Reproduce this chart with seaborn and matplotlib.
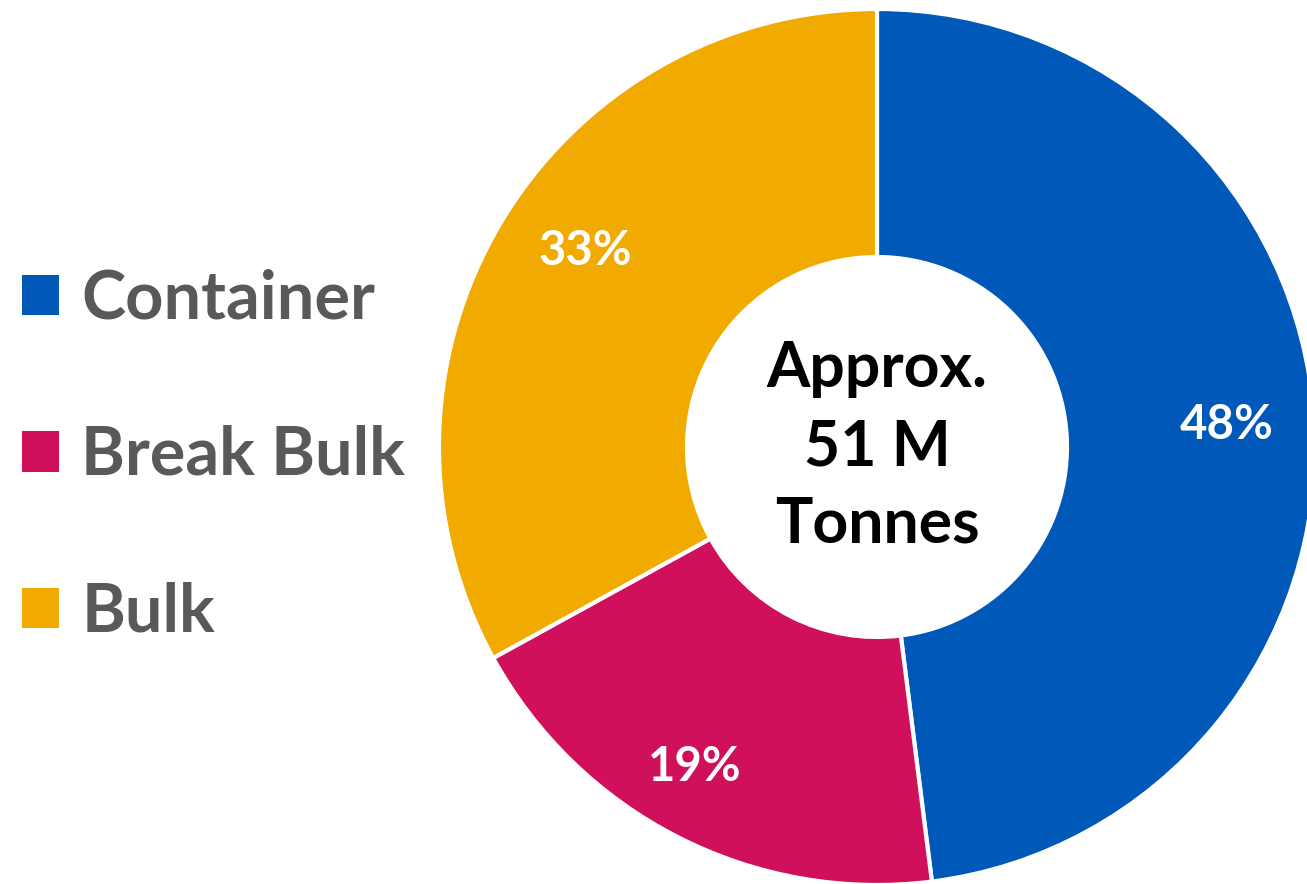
import numpy as np
import matplotlib
matplotlib.use("Agg")
import matplotlib.pyplot as plt
import seaborn as sns

# datos del gráfico
categories = ["Container", "Break Bulk", "Bulk"]
shares = [48, 19, 33]
colors = ["#0058B8", "#D0105A", "#F0AA00"]
center_label = "Approx.\n51 M\nTonnes"


def main():
    sns.set_theme(style="white")
    plt.rcParams["font.family"] = ["Lato", "DejaVu Sans"]

    W, H = 1307, 884
    fig = plt.figure(figsize=(W / 100, H / 100), dpi=100)
    ax = fig.add_axes([0, 0, 1, 1])

    palette = sns.color_palette(colors)
    cx, cy = 877, H - 447
    r_out, r_in = 438, 190

    wedges, _, autotexts = ax.pie(
        shares, colors=palette, startangle=90, counterclock=False,
        center=(cx, cy), radius=r_out, autopct="%1.0f%%", pctdistance=0.8,
        wedgeprops=dict(width=r_out - r_in, edgecolor="white", linewidth=3),
        textprops=dict(color="white", fontsize=34, fontweight="bold"),
        frame=True,
    )
    ax.set_xlim(0, W)
    ax.set_ylim(0, H)
    ax.set_aspect("equal")
    ax.axis("off")

    # pequeños ajustes de las etiquetas de porcentaje
    nudges = [(0, 0), (-23, -8), (10, 18)]
    for t, (dx, dy) in zip(autotexts, nudges):
        x, y = t.get_position()
        t.set_position((x + dx, y + dy))

    # Texto central
    ax.text(cx, cy, center_label, ha="center", va="center",
            fontsize=45, fontweight="bold", color="black", linespacing=1.42)

    # Leyenda a la izquierda
    leg = ax.legend(wedges, categories, loc="center left",
                    bbox_to_anchor=(-5 / W, 0.5 - 14 / H),
                    bbox_transform=fig.transFigure, frameon=False,
                    prop=dict(size=48, weight="bold"),
                    handlelength=0.556, handleheight=0.556, handletextpad=0.34,
                    labelspacing=1.42, borderaxespad=0)
    for t in leg.get_texts():
        t.set_color("#595959")
    for h in leg.legend_handles:
        h.set_linewidth(0)

    plt.savefig("out.png", dpi=100)


if __name__ == "__main__":
    main()
